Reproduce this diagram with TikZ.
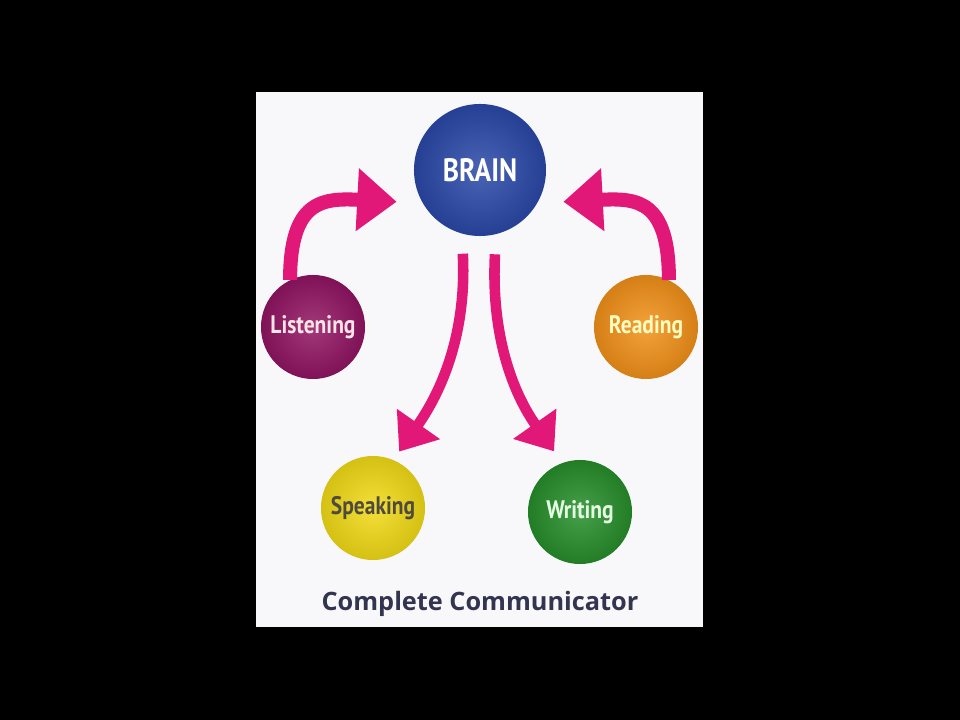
\documentclass[tikz,border=0pt]{standalone}
\usepackage{fontspec}
\usetikzlibrary{arrows.meta,positioning}
\setsansfont{Open Sans}
\newfontfamily\lblfont{PT Sans}[FakeStretch=0.85]
\definecolor{arrowPink}{RGB}{226,24,120}
\definecolor{panelWhite}{RGB}{248,248,250}
\definecolor{brainBlue}{RGB}{42,72,168}
\definecolor{listenPurple}{RGB}{145,20,98}
\definecolor{readOrange}{RGB}{242,145,25}
\definecolor{speakYellow}{RGB}{242,218,22}
\definecolor{writeGreen}{RGB}{38,142,42}
\definecolor{titleGray}{RGB}{50,52,80}
\tikzset{
  skillBall/.style  = {circle, inner sep=0pt, minimum size=2.6cm,
                       shading=radial, inner color=#1!85!white,
                       outer color=#1!88!black, text=white,
                       font=\lblfont\bfseries\fontsize{18}{18}\selectfont},
  upArrow/.style    = {-{Triangle[length=28pt,width=43pt]}, line width=10pt,
                       draw=arrowPink, shorten >=0.65cm},
  downArrow/.style  = {-{Triangle[length=24pt,width=36pt]}, line width=7.5pt,
                       draw=arrowPink, shorten <=0.5cm, shorten >=#1},
}
\begin{document}
\begin{tikzpicture}[x=0.025cm,y=-0.025cm]
  \fill[black](0,0)rectangle(960,720);
  \fill[panelWhite](256,92)rectangle(703,627);
  \node[skillBall=brainBlue,minimum size=3.3cm,
        font=\lblfont\bfseries\fontsize{23}{23}\selectfont](brain)at(480,170){BRAIN};
  \node[skillBall=listenPurple,text=pink!40!white](lis)at(313,327){Listening};
  \node[skillBall=readOrange,text=yellow!25!white](rea)at(646,327){Reading};
  \node[skillBall=speakYellow,text=black!80!yellow](spk)at(373,508){Speaking};
  \node[skillBall=writeGreen,text=green!10!white](wri)at(580,512){Writing};
  \node[text=titleGray,font=\sffamily\bfseries\fontsize{18}{18}\selectfont]
       (ttl)at(480,604){Complete Communicator};
  \foreach \a/\b/\i in {lis.116/brain.210/177,rea.64/brain.330/3}
    {\draw[upArrow](\a).. controls +(90:2cm) and +(\i:2.5cm) ..(\b);}
  \draw[downArrow=0.25cm](brain.254)to[out=273,in=55](spk.67);
  \draw[downArrow=0.35cm](brain.284)to[out=267,in=125](wri.110);
\end{tikzpicture}
\end{document}
